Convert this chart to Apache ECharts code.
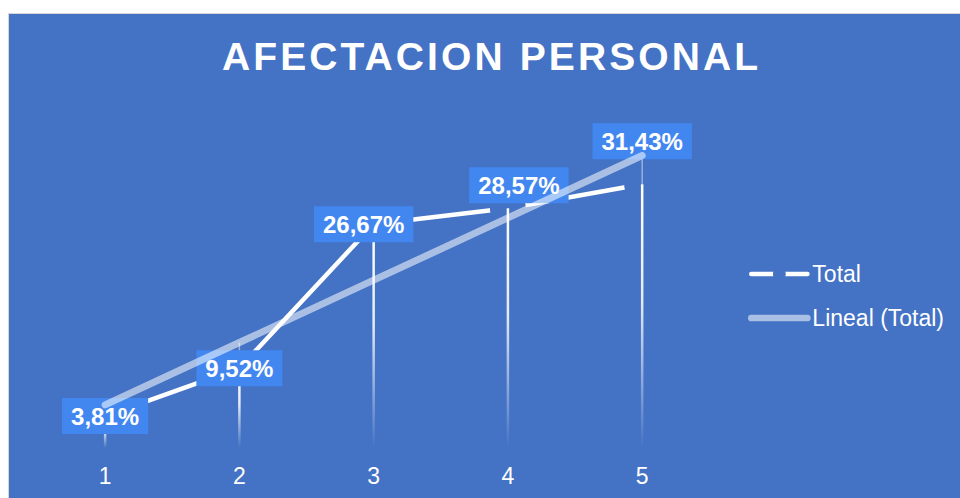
<!DOCTYPE html>
<html>
<head>
<meta charset="utf-8">
<script src="https://cdn.jsdelivr.net/npm/echarts@6/dist/echarts.min.js"></script>
<style>
  html, body { margin: 0; padding: 0; background: #ffffff; }
  #chart { width: 960px; height: 498px; }
</style>
</head>
<body>
<div id="chart"></div>
<script>
// ---- data ----
const categories = ['1', '2', '3', '4', '5'];
const totalValues = [3.81, 9.52, 26.67, 28.57, 31.43];
const titleText = 'AFECTACION PERSONAL';
const seriesNames = ['Total', 'Lineal (Total)'];

// ---- helpers ----
const FONT = "'Liberation Sans', Arial, sans-serif";
const BG = '#4472C4';
const TREND_COLOR = 'rgba(255,255,255,0.55)';

// linear trendline: ordinary least-squares fit of the Total series over the category index
function linearTrend(vals) {
  const n = vals.length;
  const xs = vals.map((_, i) => i + 1);
  const mx = xs.reduce((a, b) => a + b, 0) / n;
  const my = vals.reduce((a, b) => a + b, 0) / n;
  let sxy = 0, sxx = 0;
  for (let i = 0; i < n; i++) {
    sxy += (xs[i] - mx) * (vals[i] - my);
    sxx += (xs[i] - mx) * (xs[i] - mx);
  }
  const slope = sxy / sxx;
  const icpt = my - slope * mx;
  return xs.map(x => +(icpt + slope * x).toFixed(4));
}
const trendValues = linearTrend(totalValues);

const pct = v => v.toFixed(2).replace('.', ',') + '%';

// label placement relative to each point, in pixels
const labelShift = [[0, 0], [0, 0], [-10, 0], [11, -23], [0, -43]];

const chart = echarts.init(document.getElementById('chart'), null, { renderer: 'svg' });

const option = {
  animation: false,
  graphic: [{
    type: 'rect', z: -10, silent: true,
    shape: { x: 8.5, y: 13.5, width: 960, height: 500 },
    style: { fill: BG, stroke: '#d6d6d6', lineWidth: 1 }
  }],
  title: {
    text: titleText,
    left: 222, top: 37, padding: 0,
    textStyle: { color: '#ffffff', fontSize: 39, fontWeight: 'bold', fontFamily: FONT, lineHeight: 39 }
  },
  legend: {
    orient: 'vertical', left: 743, top: 257,
    itemWidth: 56, itemHeight: 16, itemGap: 20,
    selectedMode: false,
    textStyle: { color: '#ffffff', fontSize: 23, fontFamily: FONT, lineHeight: 24 },
    data: [
      { name: seriesNames[0], lineStyle: { color: '#ffffff', width: 4.7, cap: 'round' } },
      { name: seriesNames[1], itemStyle: { color: 'rgba(0,0,0,0)' },
        lineStyle: { color: TREND_COLOR, width: 6.7, cap: 'round' } }
    ]
  },
  grid: { left: 38, right: 250.7, top: 112.4, bottom: 50 },
  xAxis: {
    type: 'category', data: categories, boundaryGap: true,
    axisLine: { show: false }, axisTick: { show: false }, splitLine: { show: false },
    axisLabel: { color: '#ffffff', fontSize: 23, fontFamily: FONT, lineHeight: 23, margin: 16 }
  },
  yAxis: {
    type: 'value', min: 0, max: 40, show: false, splitLine: { show: false }
  },
  series: [
    {
      // main line; the background-coloured dots open a short gap around each point
      type: 'line', name: seriesNames[0], z: 2, silent: true,
      data: totalValues,
      symbol: 'circle', symbolSize: 36, showSymbol: true,
      itemStyle: { color: BG, borderWidth: 0 },
      lineStyle: { color: '#ffffff', width: 4.5, cap: 'butt' },
      label: { show: false }
    },
    {
      // drop lines from each point down to the category axis
      type: 'custom', name: 'drop', z: 3, silent: true,
      data: totalValues.map((v, i) => [i, v, trendValues[i]]),
      encode: { x: 0, y: 1 },
      renderItem(params, api) {
        const i = api.value(0), v = api.value(1), t = api.value(2);
        const top = api.coord([i, v]);
        const base = api.coord([i, 0]);
        const kids = [{
          type: 'rect',
          shape: { x: top[0] - 1.25, y: top[1], width: 2.5, height: base[1] - top[1] },
          style: {
            fill: new echarts.graphic.LinearGradient(0, 0, 0, 1, [
              { offset: 0, color: 'rgba(255,255,255,1)' },
              { offset: 0.45, color: 'rgba(255,255,255,0.85)' },
              { offset: 1, color: 'rgba(255,255,255,0)' }
            ])
          }
        }];
        if (t > v) {
          const tp = api.coord([i, t]);
          kids.push({
            type: 'rect',
            shape: { x: tp[0] - 0.75, y: tp[1], width: 1.5, height: top[1] - tp[1] },
            style: { fill: 'rgba(255,255,255,0.45)' }
          });
        }
        return { type: 'group', children: kids };
      }
    },
    {
      // value boxes
      type: 'scatter', name: 'values', z: 4, silent: true,
      symbolSize: 1, itemStyle: { color: 'rgba(0,0,0,0)', opacity: 1 },
      data: totalValues.map((v, i) => ({ value: v, label: { offset: labelShift[i] } })),
      label: {
        show: true, position: 'inside',
        formatter: p => pct(p.value),
        color: '#ffffff', fontSize: 24, fontWeight: 'bold', fontFamily: FONT, lineHeight: 24,
        backgroundColor: '#4287f0', padding: [6, 9]
      }
    },
    {
      type: 'line', name: seriesNames[1], z: 5, silent: true,
      data: trendValues,
      symbol: 'none',
      itemStyle: { color: TREND_COLOR },
      lineStyle: { color: TREND_COLOR, width: 7, cap: 'round' }
    }
  ]
};

// widen the tracking of the title text
function spaceTitle() {
  document.querySelectorAll('#chart text').forEach(t => {
    if (t.textContent === titleText) t.setAttribute('letter-spacing', '3.1');
  });
}
chart.on('finished', spaceTitle);
chart.setOption(option);
spaceTitle();
requestAnimationFrame(spaceTitle);
</script>
</body>
</html>
